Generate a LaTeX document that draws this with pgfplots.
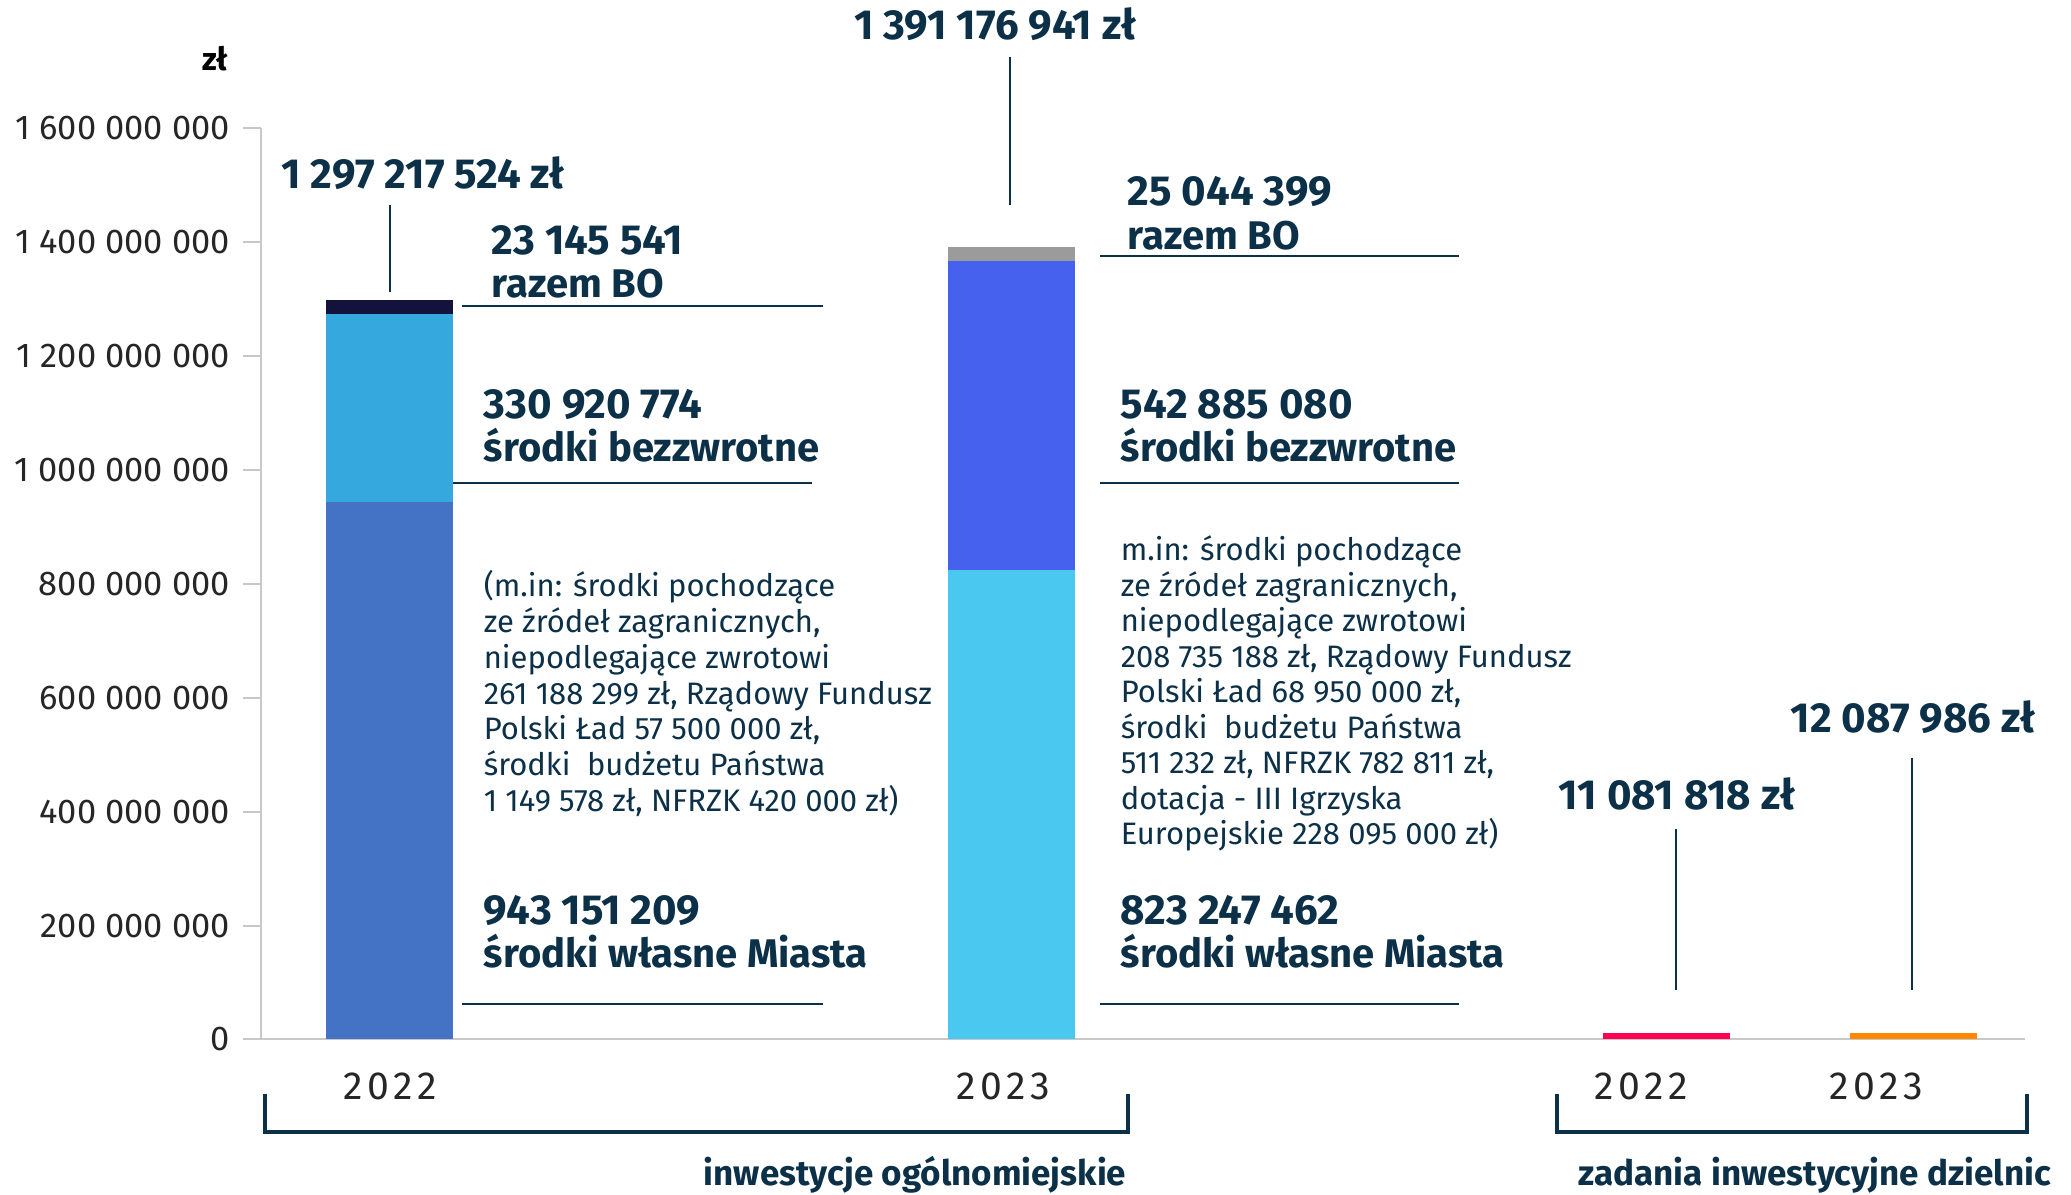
\documentclass[border=0pt]{standalone}
\usepackage{fontspec}
\setmainfont{Fira Sans}
\newfontfamily\yearfont[LetterSpace=12]{Fira Sans}
\usepackage{pgfplots}
\pgfplotsset{compat=1.18}
\definecolor{txt}{HTML}{0B3048}
\definecolor{tickc}{HTML}{262626}
\definecolor{axisc}{HTML}{C8C8C8}
\definecolor{own22}{HTML}{4472C4}
\definecolor{bez22}{HTML}{35A8DE}
\definecolor{bo22}{HTML}{12123D}
\definecolor{own23}{HTML}{4BC8F0}
\definecolor{bez23}{HTML}{4561EE}
\definecolor{bo23}{HTML}{9B9B9B}
\definecolor{dz22}{HTML}{FF0055}
\definecolor{dz23}{HTML}{FF8800}

\newcommand\bigf{\fontsize{10.5}{12}\selectfont\bfseries}
\newcommand\wordf{\fontsize{10}{12}\selectfont\bfseries}
\newcommand\smallf{\fontsize{7.75}{8.9}\selectfont}

\begin{document}
\begin{tikzpicture}
\useasboundingbox (0,0) rectangle (517.75pt,-298.75pt);
\begin{axis}[
  at={(65.375pt,-259.875pt)}, anchor=south west,
  scale only axis,
  width=440.875pt, height=227.875pt,
  xmin=2.615, xmax=20.25,
  ymin=0, ymax=1.6e9,
  axis x line=bottom, axis y line=left,
  axis line style={draw=axisc, line width=0.5pt, -},
  xtick=\empty,
  ytick={0,2e8,4e8,6e8,8e8,1e9,1.2e9,1.4e9,1.6e9},
  yticklabels={0,200 000 000,400 000 000,600 000 000,800 000 000,1 000 000 000,1 200 000 000,1 400 000 000,1 600 000 000},
  scaled y ticks=false,
  tick align=outside,
  major tick length=4.5pt,
  tick style={draw=axisc, line width=0.5pt},
  yticklabel style={font=\fontsize{8.6}{10}\selectfont, text=tickc, inner sep=0pt, xshift=-3.25pt},
  ybar, bar width=31.75pt,
  clip=false,
]
% 2022: razem, własne+bezzwrotne, własne
\addplot[fill=bo22, draw=none, bar shift=0pt] coordinates {(3.896,1297217524)};
\addplot[fill=bez22, draw=none, bar shift=0pt] coordinates {(3.896,1274071983)};
\addplot[fill=own22, draw=none, bar shift=0pt] coordinates {(3.896,943151209)};
% 2023
\addplot[fill=bo23, draw=none, bar shift=0pt] coordinates {(10.115,1391176941)};
\addplot[fill=bez23, draw=none, bar shift=0pt] coordinates {(10.115,1366132542)};
\addplot[fill=own23, draw=none, bar shift=0pt] coordinates {(10.115,823247462)};
% dzielnice
\addplot[fill=dz22, draw=none, bar shift=0pt] coordinates {(16.665,11081818)};
\addplot[fill=dz23, draw=none, bar shift=0pt] coordinates {(19.135,12087986)};
\end{axis}

\begin{scope}[x=0.25pt, y=-0.25pt, every node/.style={inner sep=0pt, text=txt}]
\node[anchor=center, text=black, font=\fontsize{8}{9}\selectfont\bfseries] at (215,59) {zł};

% 2022
\node[anchor=base, font=\bigf] at (423,189) {1 297 217 524 zł};
\draw[txt, line width=0.5pt] (389.6,205) -- (389.6,292);
\node[anchor=base west, font=\bigf] at (491,255) {23 145 541};
\node[anchor=base west, font=\wordf] at (491,298) {razem BO};
\draw[txt, line width=0.6pt] (462,306) -- (823,306);
\node[anchor=base west, font=\bigf] at (483,419) {330 920 774};
\node[anchor=base west, font=\wordf] at (483,462) {środki bezzwrotne};
\draw[txt, line width=0.6pt] (453,483) -- (812,483);
\node[anchor=base west, font=\smallf] at (483,597.0) {(m.in: środki pochodzące};
\node[anchor=base west, font=\smallf] at (483,632.7) {ze źródeł zagranicznych,};
\node[anchor=base west, font=\smallf] at (483,668.4) {niepodlegające zwrotowi};
\node[anchor=base west, font=\smallf] at (483,704.1) {261 188 299 zł, Rządowy Fundusz};
\node[anchor=base west, font=\smallf] at (483,739.8) {Polski Ład 57 500 000 zł,};
\node[anchor=base west, font=\smallf] at (483,775.5) {środki\ \ budżetu Państwa};
\node[anchor=base west, font=\smallf] at (483,811.2) {1 149 578 zł, NFRZK 420 000 zł)};
\node[anchor=base west, font=\bigf] at (483,925) {943 151 209};
\node[anchor=base west, font=\wordf] at (483,968) {środki własne Miasta};
\draw[txt, line width=0.6pt] (462,1004) -- (823,1004);

% 2023
\node[anchor=base, font=\bigf] at (995,40) {1 391 176 941 zł};
\draw[txt, line width=0.5pt] (1010,57) -- (1010,205);
\node[anchor=base west, font=\bigf] at (1127,206) {25 044 399};
\node[anchor=base west, font=\wordf] at (1127,250) {razem BO};
\draw[txt, line width=0.6pt] (1100,256) -- (1459,256);
\node[anchor=base west, font=\bigf] at (1120,419) {542 885 080};
\node[anchor=base west, font=\wordf] at (1120,462) {środki bezzwrotne};
\draw[txt, line width=0.6pt] (1100,483) -- (1459,483);
\node[anchor=base west, font=\smallf] at (1120,561.0) {m.in: środki pochodzące};
\node[anchor=base west, font=\smallf] at (1120,596.5) {ze źródeł zagranicznych,};
\node[anchor=base west, font=\smallf] at (1120,632.0) {niepodlegające zwrotowi};
\node[anchor=base west, font=\smallf] at (1120,667.5) {208 735 188 zł, Rządowy Fundusz};
\node[anchor=base west, font=\smallf] at (1120,703.0) {Polski Ład 68 950 000 zł,};
\node[anchor=base west, font=\smallf] at (1120,738.5) {środki\ \ budżetu Państwa};
\node[anchor=base west, font=\smallf] at (1120,774.0) {511 232 zł, NFRZK 782 811 zł,};
\node[anchor=base west, font=\smallf] at (1120,809.5) {dotacja - III Igrzyska};
\node[anchor=base west, font=\smallf] at (1120,845.0) {Europejskie 228 095 000 zł)};
\node[anchor=base west, font=\bigf] at (1120,925) {823 247 462};
\node[anchor=base west, font=\wordf] at (1120,968) {środki własne Miasta};
\draw[txt, line width=0.6pt] (1100,1004) -- (1459,1004);

% dzielnice
\node[anchor=base, font=\bigf] at (1677,810) {11 081 818 zł};
\draw[txt, line width=0.5pt] (1676,829) -- (1676,990);
\node[anchor=base, font=\bigf] at (1913,733) {12 087 986 zł};
\draw[txt, line width=0.5pt] (1912,758) -- (1912,990);

% lata
\node[anchor=base, text=tickc, font=\yearfont\fontsize{9.8}{10}\selectfont] at (390,1100) {2022};
\node[anchor=base, text=tickc, font=\yearfont\fontsize{9.8}{10}\selectfont] at (1003,1100) {2023};
\node[anchor=base, text=tickc, font=\yearfont\fontsize{9.8}{10}\selectfont] at (1641,1100) {2022};
\node[anchor=base, text=tickc, font=\yearfont\fontsize{9.8}{10}\selectfont] at (1876,1100) {2023};

% klamry
\draw[txt, line width=1pt] (265,1094) -- (265,1132) -- (1128,1132) -- (1128,1094);
\draw[txt, line width=1pt] (1557,1094) -- (1557,1132) -- (2027,1132) -- (2027,1094);
\node[anchor=base east, font=\fontsize{8.75}{10}\selectfont\bfseries] at (1127,1186) {inwestycje ogólnomiejskie};
\node[anchor=base west, font=\fontsize{8.75}{10}\selectfont\bfseries] at (1578,1186) {zadania inwestycyjne dzielnic};
\end{scope}
\end{tikzpicture}
\end{document}
